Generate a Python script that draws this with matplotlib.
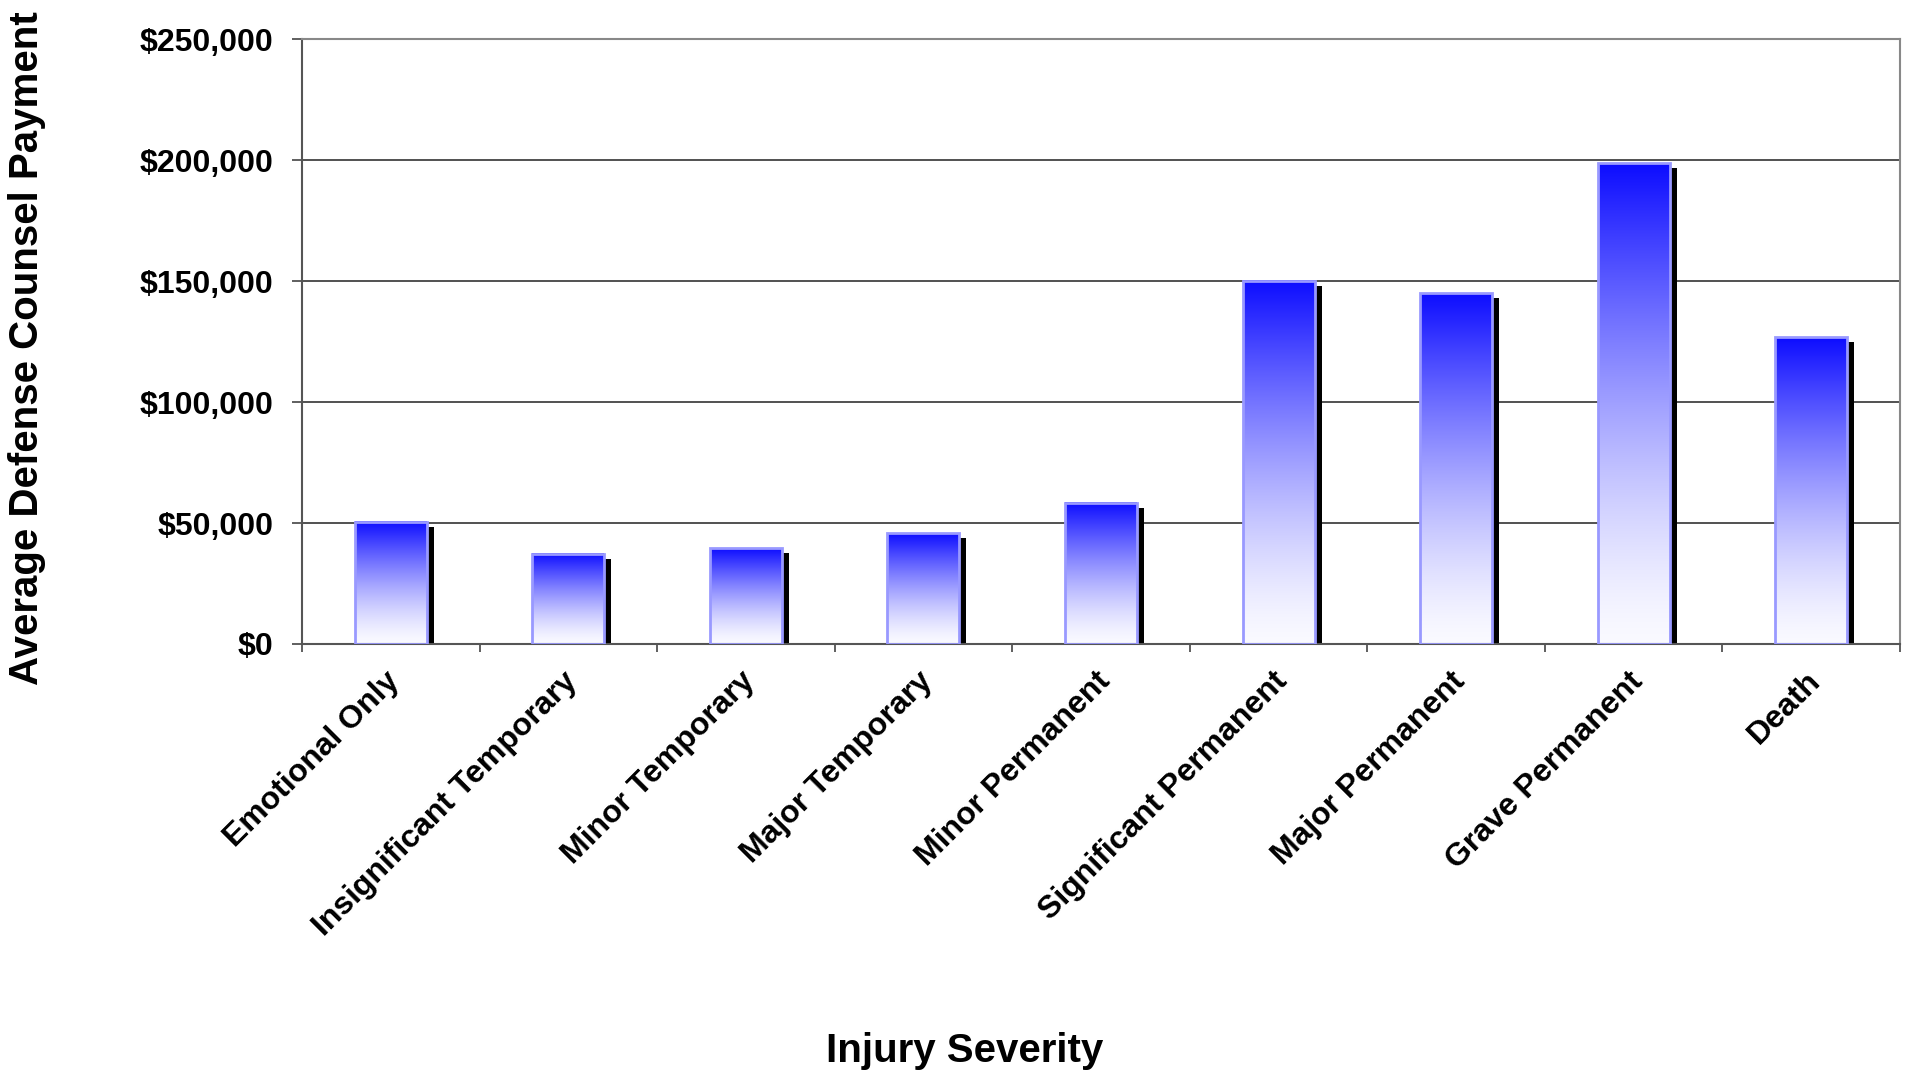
import numpy as np
import matplotlib
matplotlib.use("Agg")
import matplotlib.pyplot as plt
from matplotlib.transforms import ScaledTranslation
from matplotlib.ticker import FuncFormatter

categories = ["Emotional Only", "Insignificant Temporary", "Minor Temporary",
              "Major Temporary", "Minor Permanent", "Significant Permanent",
              "Major Permanent", "Grave Permanent", "Death"]
payments = [50500, 37300, 39500, 45800, 58400, 150000, 144900, 198600, 126800]
y_ticks = [0, 50000, 100000, 150000, 200000, 250000]

plt.rcParams['font.family'] = ['Liberation Sans', 'DejaVu Sans']
plt.rcParams['font.weight'] = 'bold'

W, H = 1908, 1076
fig = plt.figure(figsize=(W / 100, H / 100), dpi=100)
ax = fig.add_axes([302 / W, 1 - 644 / H, 1598 / W, 605 / H])

x = np.arange(len(categories))
bw = 0.405

# gradient colormap: bottom near-white, top strong blue
t = np.linspace(0, 1, 256)
light = 0.98 - 0.93 * t ** 1.4
grad = np.zeros((256, 1, 3))
grad[:, 0, 0] = light
grad[:, 0, 1] = light
grad[:, 0, 2] = 1.0
grad = grad[::-1]  # row 0 = top

# shadows
shadow = ax.bar(x, payments, width=bw, color='black', zorder=1, linewidth=0)
off = ScaledTranslation(7 / 100, -5 / 100, fig.dpi_scale_trans)
for p in shadow:
    p.set_transform(ax.transData + off)

for xi, v in zip(x, payments):
    ax.imshow(grad, extent=(xi - bw / 2, xi + bw / 2, 0, v), aspect='auto',
              zorder=2, interpolation='bilinear')

ax.bar(x, payments, width=bw, facecolor='none', edgecolor='#9999ff',
       linewidth=2, zorder=3)

ax.set_xlim(-0.5, len(categories) - 0.5)
ax.set_ylim(0, 250000)
ax.set_aspect('auto')

ax.set_yticks(y_ticks)
ax.yaxis.set_major_formatter(FuncFormatter(lambda v, p: "${:,.0f}".format(v)))
ax.tick_params(axis='y', length=7, width=1.2, color='#444444', pad=13.5,
               labelsize=23)
ax.yaxis.grid(True, color='#333333', linewidth=1.2, zorder=0)
ax.set_axisbelow(True)

ax.set_xticks(np.arange(len(categories) + 1) - 0.5)
ax.set_xticklabels([])
ax.tick_params(axis='x', which='major', length=6, width=1.2, color='#444444')
ax.set_xticks(x, minor=True)
ax.set_xticklabels(categories, minor=True, rotation=45, ha='right', va='top',
                   rotation_mode='anchor', fontsize=23, fontweight='bold')
ax.tick_params(axis='x', which='minor', length=0, pad=16)
shift = ScaledTranslation(-6 / 100, 0, fig.dpi_scale_trans)
for lab in ax.get_xticklabels(minor=True):
    lab.set_transform(lab.get_transform() + shift)

for s in ['left', 'bottom']:
    ax.spines[s].set_color('#555555')
    ax.spines[s].set_linewidth(1.5)
for s in ['top', 'right']:
    ax.spines[s].set_color('#888888')
    ax.spines[s].set_linewidth(1.5)

fig.text(27 / W, 1 - 348 / H, "Average Defense Counsel Payment", rotation=90,
         ha='center', va='center', fontsize=29, fontweight='bold')
fig.text(965 / W, 1 - 1051 / H, "Injury Severity", ha='center', va='center',
         fontsize=29, fontweight='bold')

fig.savefig("out.png", dpi=100, facecolor='white')
